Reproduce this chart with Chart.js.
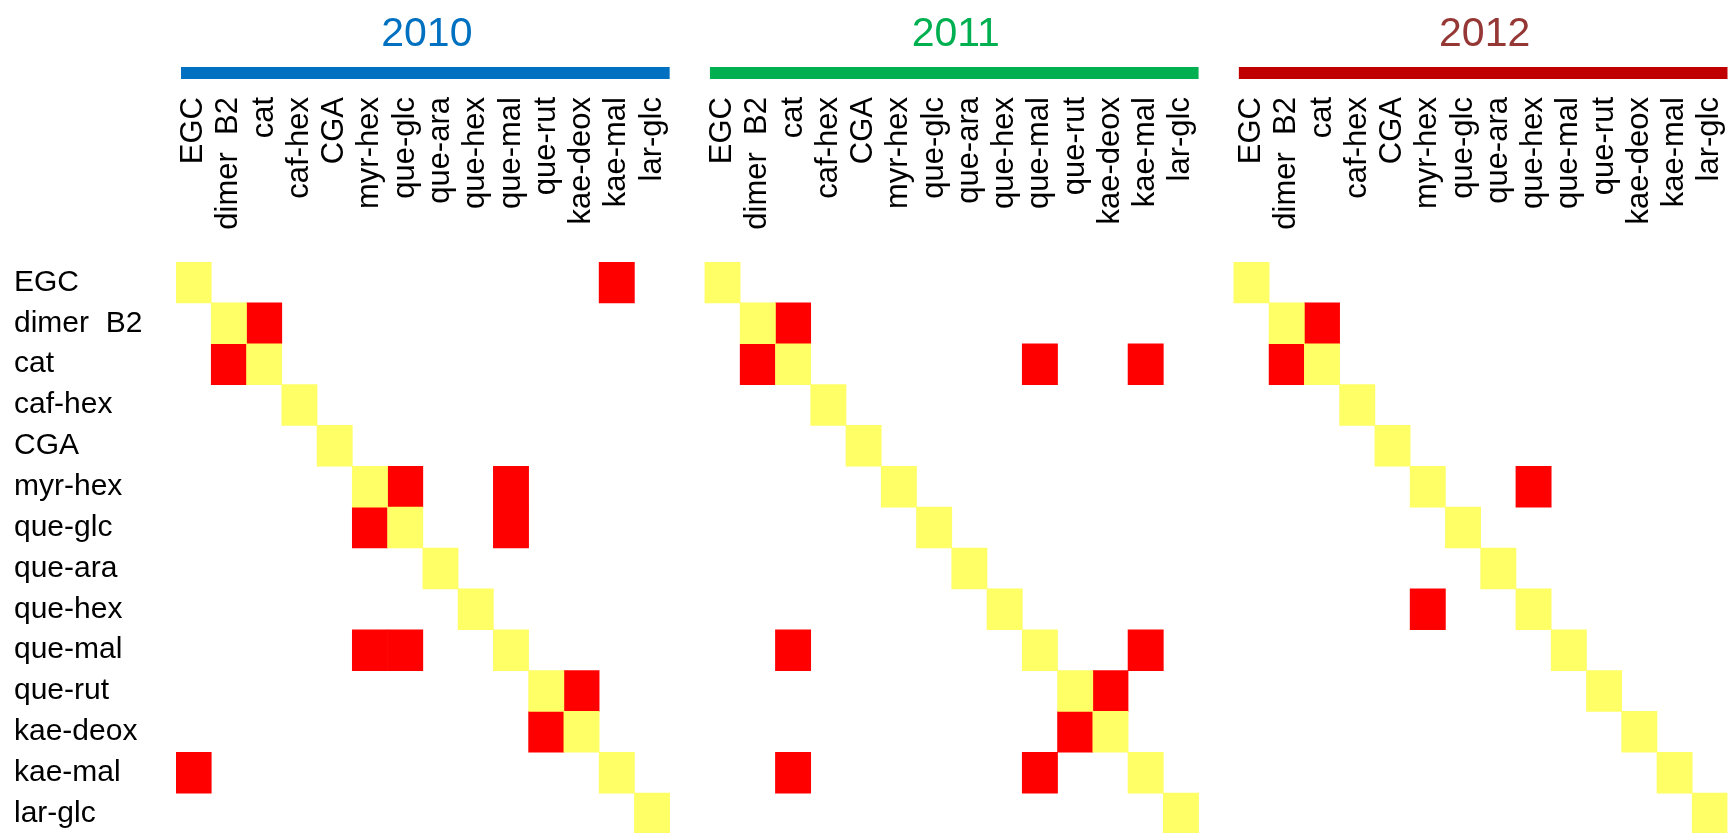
<!DOCTYPE html>
<html>
<head>
<meta charset="utf-8">
<script src="https://cdn.jsdelivr.net/npm/chart.js@4.4.1/dist/chart.umd.min.js"></script>
<style>
  html, body { margin: 0; padding: 0; background: #fff; overflow: hidden; }
  #wrap { position: relative; width: 1730px; height: 834px; }
</style>
</head>
<body>
<div id="wrap"><canvas id="matrixChart"></canvas></div>
<script>
// compounds, same order on both axes
const compounds = ["EGC", "dimer  B2", "cat", "caf-hex", "CGA", "myr-hex", "que-glc",
  "que-ara", "que-hex", "que-mal", "que-rut", "kae-deox", "kae-mal", "lar-glc"];

const years = ["2010", "2011", "2012"];
const yearBarColors = ["#0070C0", "#00B050", "#C00000"];
const yearTextColors = ["#0070C0", "#00B050", "#953735"];

// red cells as [row, column] per year
const red2010 = [[0, 12], [1, 2], [2, 1], [5, 6], [5, 9], [6, 5], [6, 9], [9, 5], [9, 6], [10, 11], [11, 10], [12, 0]];
const red2011 = [[1, 2], [2, 1], [2, 9], [2, 12], [9, 2], [9, 12], [10, 11], [11, 10], [12, 2], [12, 9]];
const red2012 = [[1, 2], [2, 1], [5, 8], [8, 5]];
const redCells = [red2010, red2011, red2012];

const n = compounds.length;
const slotCount = years.length * n + (years.length - 1);

function panelStart(p) {
  return p * (n + 1);
}

const yellowData = [];
const redData = [];

years.forEach((year, p) => {
  const start = panelStart(p);
  compounds.forEach((name, i) => {
    yellowData.push({ x: [start + i, start + i + 1], y: name });
  });
  redCells[p].forEach(([r, c]) => {
    redData.push({ x: [start + c, start + c + 1], y: compounds[r] });
  });
});

const headerPlugin = {
  id: "headerPlugin",
  afterDraw(chart) {
    const ctx = chart.ctx;
    const xScale = chart.scales.x;

    ctx.save();
    years.forEach((year, p) => {
      const start = panelStart(p);
      const left = xScale.getPixelForValue(start);
      const right = xScale.getPixelForValue(start + n);

      // year title
      ctx.fillStyle = yearTextColors[p];
      ctx.font = "41px 'Liberation Sans', Arial, sans-serif";
      ctx.textAlign = "center";
      ctx.textBaseline = "alphabetic";
      ctx.fillText(year, (left + right) / 2 + 4, 46);

      // coloured rule
      ctx.fillStyle = yearBarColors[p];
      ctx.fillRect(left + 5, 67, right - left - 5, 12);

      // column labels, rotated, aligned at the top
      ctx.fillStyle = "#000";
      ctx.font = "31px 'Liberation Sans', Arial, sans-serif";
      ctx.textAlign = "right";
      ctx.textBaseline = "middle";
      compounds.forEach((name, i) => {
        const x = xScale.getPixelForValue(start + i + 0.5);
        ctx.save();
        ctx.translate(x, 97);
        ctx.rotate(-Math.PI / 2);
        ctx.fillText(name, 0, 0);
        ctx.restore();
      });
    });
    ctx.restore();
  }
};

const ctx = document.getElementById("matrixChart").getContext("2d");

new Chart(ctx, {
  type: "bar",
  data: {
    labels: compounds,
    datasets: [
      {
        label: "same",
        data: yellowData,
        backgroundColor: "#FFFF66",
        borderWidth: 0
      },
      {
        label: "similar",
        data: redData,
        backgroundColor: "#FF0000",
        borderWidth: 0
      }
    ]
  },
  options: {
    indexAxis: "y",
    responsive: true,
    maintainAspectRatio: false,
    animation: false,
    devicePixelRatio: 1,
    grouped: false,
    barPercentage: 1,
    categoryPercentage: 1,
    layout: {
      padding: { top: 262, left: 14, right: 2.5, bottom: 0 }
    },
    plugins: {
      legend: { display: false },
      tooltip: { enabled: false }
    },
    scales: {
      x: {
        type: "linear",
        min: 0,
        max: slotCount,
        display: false
      },
      y: {
        type: "category",
        offset: true,
        grid: { display: false },
        border: { display: false },
        afterFit: (scale) => {
          scale.width = 162;
          scale.paddingTop = 0;
          scale.paddingBottom = 0;
        },
        ticks: {
          crossAlign: "far",
          color: "#000",
          autoSkip: false,
          font: { family: "'Liberation Sans', Arial, sans-serif", size: 30 }
        }
      }
    }
  },
  plugins: [headerPlugin]
});
</script>
</body>
</html>
